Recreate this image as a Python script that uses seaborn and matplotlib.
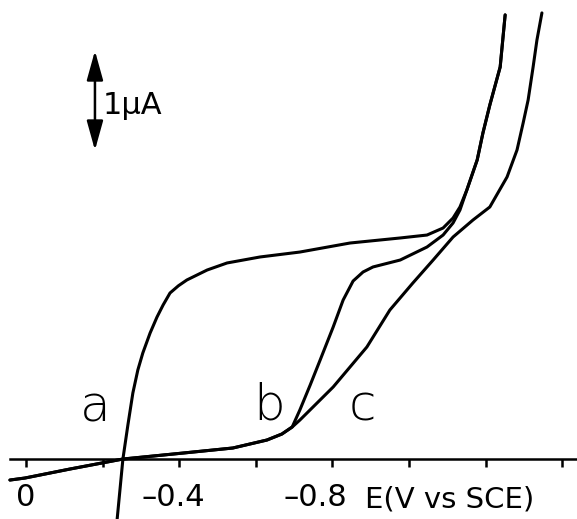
import numpy as np
import matplotlib
matplotlib.use('Agg')
import matplotlib.pyplot as plt
import seaborn as sns

# Potencial E (V vs SCE) e corrente (uA)
E_base = [0.042, 0.003, -0.115, -0.253, -0.410, -0.540, -0.629, -0.668, -0.695]
I_base = [-0.200, -0.181, -0.095, 0.0, 0.057, 0.105, 0.181, 0.238, 0.305]

E_a = [-0.238, -0.253, -0.266, -0.279, -0.292, -0.305, -0.324, -0.342, -0.358,
       -0.376, -0.398, -0.420, -0.473, -0.525, -0.611, -0.715, -0.846, -0.977, -1.047,
       -1.089, -1.115, -1.133, -1.151, -1.178, -1.193, -1.211, -1.238, -1.251]
I_a = [-0.571, 0.0, 0.324, 0.629, 0.848, 1.010, 1.200, 1.352, 1.467,
       1.581, 1.650, 1.705, 1.800, 1.867, 1.924, 1.971, 2.057, 2.105, 2.133,
       2.200, 2.295, 2.400, 2.562, 2.848, 3.105, 3.371, 3.733, 4.229]

E_b = [-0.695, -0.715, -0.742, -0.768, -0.802, -0.828, -0.854, -0.880, -0.906,
       -0.977, -1.047, -1.089, -1.115, -1.133, -1.151, -1.178, -1.193, -1.211,
       -1.238, -1.251]
I_b = [0.305, 0.467, 0.705, 0.943, 1.257, 1.514, 1.695, 1.781, 1.829,
       1.895, 2.019, 2.133, 2.248, 2.371, 2.562, 2.848, 3.105, 3.371,
       3.733, 4.229]

E_c = [-0.695, -0.715, -0.802, -0.890, -0.950, -1.010, -1.063, -1.115, -1.167,
       -1.211, -1.256, -1.282, -1.298, -1.311, -1.324, -1.334, -1.347]
I_c = [0.305, 0.371, 0.686, 1.067, 1.419, 1.676, 1.895, 2.114, 2.276,
       2.400, 2.686, 2.943, 3.200, 3.419, 3.733, 3.990, 4.248]

ticks = [0, -0.2, -0.4, -0.6, -0.8, -1.0, -1.2, -1.4]
tick_labels = ['0', '–0.4', '–0.8']
label_pos = [0.0, -0.384, -0.755]

sns.set_style('white')
plt.rcParams['font.family'] = ['DejaVu Sans']
plt.rcParams['text.color'] = 'black'

fig = plt.figure(figsize=(5.77, 5.19), dpi=100)
ax = fig.add_axes([0, 0, 1, 1])

for E, I in [(E_a, I_a), (E_base + E_b[1:], I_base + I_b[1:]), (E_base + E_c[1:], I_base + I_c[1:])]:
    sns.lineplot(x=E, y=I, sort=False, estimator=None, color='black', lw=2.2, ax=ax)

ax.set_xlim(0.0679, -1.4386)
ax.set_ylim(-0.571, 4.371)

for s in ['top', 'left', 'right']:
    ax.spines[s].set_visible(False)
ax.spines['bottom'].set_position(('data', 0))
ax.spines['bottom'].set_bounds(0.042, -1.44)
ax.spines['bottom'].set_linewidth(1.8)
ax.spines['bottom'].set_color('black')
ax.set_xticks(ticks)
ax.set_xticklabels([])
ax.tick_params(axis='x', bottom=True, direction='out', length=6, width=1.8, colors='black')
ax.set_yticks([])
ax.set_xlabel('')
ax.set_ylabel('')

for x, t in zip(label_pos, tick_labels):
    ax.text(x, -0.371, t, fontsize=22, ha='center', va='center', color='black')
ax.text(-1.107, -0.381, 'E(V vs SCE)', fontsize=21, ha='center', va='center', color='black')

# barra de escala 1 uA
ax.annotate('', xy=(-0.180, 3.914), xytext=(-0.180, 2.914),
            arrowprops=dict(arrowstyle='<|-|>,head_length=0.9,head_width=0.25',
                            mutation_scale=20, lw=1.8, color='black'))
ax.text(-0.201, 3.371, '1µA', fontsize=22, ha='left', va='center', color='black')

ax.text(-0.18, 0.486, 'a', fontsize=36, ha='center', va='center', fontweight='light', color='black')
ax.text(-0.634, 0.514, 'b', fontsize=36, ha='center', va='center', fontweight='light', color='black')
ax.text(-0.877, 0.505, 'c', fontsize=36, ha='center', va='center', fontweight='light', color='black')

plt.savefig('out.png', dpi=100)
